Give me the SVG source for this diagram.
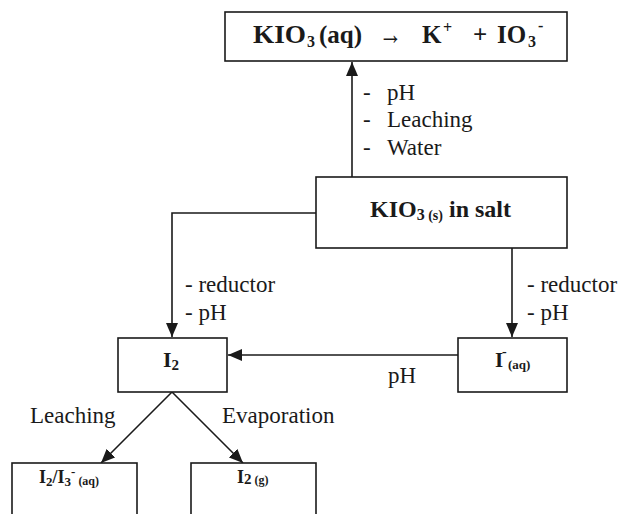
<svg xmlns="http://www.w3.org/2000/svg" width="621" height="514" viewBox="0 0 621 514">
<style>
text{font-family:"Liberation Serif","Times New Roman",serif;fill:#1a1a1a}
.b{font-weight:bold}
.lbl{font-size:23px}
.box{fill:#fff;stroke:#1a1a1a;stroke-width:1.6}
.ln{fill:none;stroke:#1a1a1a;stroke-width:1.6}
</style>
<defs>
<marker id="ah" markerUnits="userSpaceOnUse" markerWidth="14" markerHeight="12" viewBox="0 0 14 12" refX="14" refY="6" orient="auto">
<path d="M0,0 L14,6 L0,12 z" fill="#1a1a1a"/>
</marker>
</defs>
<g id="connectors">
<line class="ln" x1="352" y1="177" x2="352" y2="62" marker-end="url(#ah)"/>
<polyline class="ln" points="316,213 172,213 172,337" marker-end="url(#ah)"/>
<line class="ln" x1="512" y1="248" x2="512" y2="337" marker-end="url(#ah)"/>
<line class="ln" x1="458" y1="355" x2="228" y2="355" marker-end="url(#ah)"/>
<line class="ln" x1="172" y1="392" x2="101" y2="463" marker-end="url(#ah)"/>
<line class="ln" x1="172" y1="392" x2="243" y2="463" marker-end="url(#ah)"/>
<text class="lbl" x="363" y="100">-</text><text class="lbl" x="387" y="100">pH</text>
<text class="lbl" x="363" y="127">-</text><text class="lbl" x="387" y="127">Leaching</text>
<text class="lbl" x="363" y="155">-</text><text class="lbl" x="387" y="155">Water</text>
<text class="lbl" x="185" y="292">- reductor</text>
<text class="lbl" x="185" y="320">- pH</text>
<text class="lbl" x="527" y="292">- reductor</text>
<text class="lbl" x="527" y="320">- pH</text>
<text class="lbl" x="388" y="383">pH</text>
<text class="lbl" x="30" y="423">Leaching</text>
<text class="lbl" x="222" y="423">Evaporation</text>
</g>
<g id="node-kio3-aq">
<rect class="box" x="225" y="12" width="342" height="49"/>
<text class="b" font-size="25" x="253" y="43" textLength="53" lengthAdjust="spacingAndGlyphs">KIO</text>
<text class="b" font-size="16" x="307" y="47">3</text>
<text class="b" font-size="25" x="319" y="43">(aq)</text>
<text font-size="30" x="379" y="44" textLength="23" lengthAdjust="spacingAndGlyphs">→</text>
<text class="b" font-size="25" x="422" y="43">K</text>
<text class="b" font-size="16" x="443" y="33">+</text>
<text class="b" font-size="25" x="473" y="43">+</text>
<text class="b" font-size="25" x="497" y="43">IO</text>
<text class="b" font-size="16" x="528" y="47">3</text>
<text class="b" font-size="16" x="538" y="31">-</text>
</g>
<g id="node-kio3-salt">
<rect class="box" x="316" y="177" width="251" height="71"/>
<text class="b" font-size="24" x="370" y="217">KIO<tspan font-size="16" dy="3">3</tspan><tspan font-size="14" dy="0"> (s)</tspan><tspan dy="-3"> in salt</tspan></text>
</g>
<g id="node-i2">
<rect class="box" x="118" y="338" width="109" height="54"/>
<text class="b" font-size="22" x="163" y="367">I<tspan font-size="15" dy="3">2</tspan></text>
</g>
<g id="node-iodide">
<rect class="box" x="458" y="338" width="109" height="54"/>
<text class="b" font-size="21" x="495" y="367">I</text>
<text class="b" font-size="14" x="502" y="356">-</text>
<text class="b" font-size="13" x="508" y="369">(aq)</text>
</g>
<g id="node-i2-i3">
<rect class="box" x="12" y="463" width="125" height="60"/>
<text class="b" font-size="18" x="39" y="483">I<tspan font-size="13" dy="3">2</tspan><tspan dy="-3">/I</tspan><tspan font-size="13" dy="3">3</tspan><tspan font-size="13" dy="-10">-</tspan><tspan font-size="12" dy="9"> (aq)</tspan></text>
</g>
<g id="node-i2-g">
<rect class="box" x="191" y="463" width="125" height="60"/>
<text class="b" font-size="18" x="237" y="483">I<tspan font-size="15" dy="1">2</tspan><tspan font-size="12" dy="0"> (g)</tspan></text>
</g>
</svg>
